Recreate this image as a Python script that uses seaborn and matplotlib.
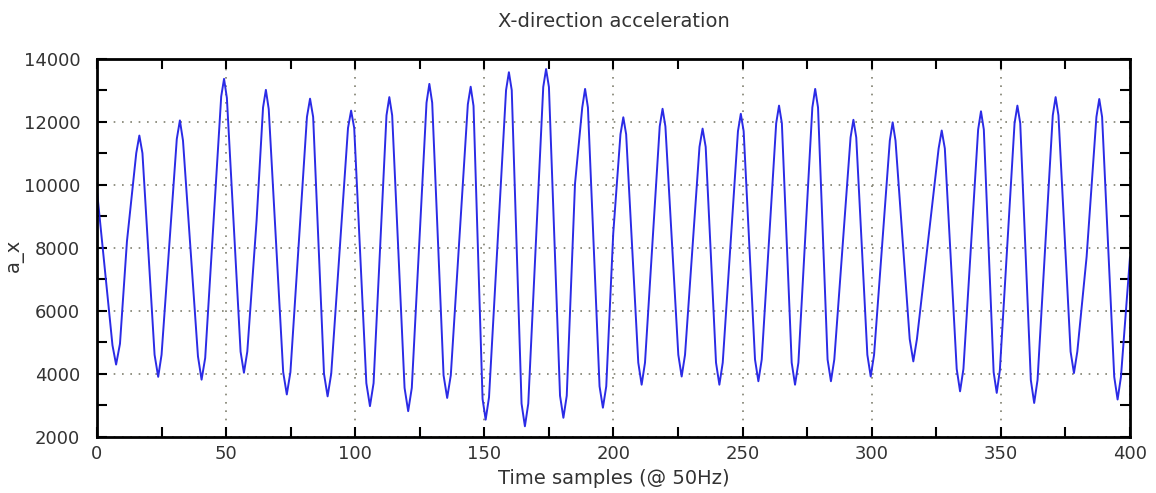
import pandas as pd
import matplotlib
matplotlib.use("Agg")
import matplotlib.pyplot as plt
import seaborn as sns
from matplotlib.ticker import MultipleLocator

# sample index and x-acceleration (peaks, troughs, their flanks, shoulders)
sample = [0,
          6.0, 7.4, 8.9, 11.6, 15.2, 16.4, 17.6,
          22.3, 23.7, 25.0, 30.9, 32.1, 33.3,
          39.1, 40.5, 41.9, 48.1, 49.2, 50.3,
          55.6, 56.9, 58.2, 61.8, 64.3, 65.4, 66.5,
          72.1, 73.5, 74.9, 81.3, 82.5, 83.7,
          87.9, 89.3, 90.7, 97.2, 98.4, 99.6,
          104.3, 105.7, 107.1, 112.1, 113.2, 114.3,
          119.1, 120.5, 121.9, 127.6, 128.7, 129.8,
          134.2, 135.6, 137.0, 143.6, 144.7, 145.8,
          149.3, 150.5, 151.8, 158.4, 159.5, 160.6,
          164.4, 165.7, 167.0, 172.8, 173.9, 175.0,
          179.3, 180.6, 181.9, 185.1, 187.9, 189.0, 190.1,
          194.6, 195.9, 197.2, 199.9, 202.7, 203.8, 204.9,
          209.6, 210.9, 212.2, 217.9, 219.0, 220.1,
          225.1, 226.4, 227.7, 233.3, 234.5, 235.7,
          239.7, 241.0, 242.3, 248.2, 249.3, 250.4,
          254.8, 256.1, 257.4, 263.0, 264.1, 265.2,
          269.0, 270.3, 271.6, 277.0, 278.1, 279.2,
          282.9, 284.2, 285.5, 291.8, 292.9, 294.0,
          298.3, 299.6, 300.9, 307.0, 308.1, 309.2,
          314.7, 316.1, 317.5, 325.9, 327.1, 328.3,
          332.9, 334.2, 335.5, 341.2, 342.3, 343.4,
          347.2, 348.4, 349.6, 355.3, 356.4, 357.5,
          361.6, 362.9, 364.2, 370.1, 371.2, 372.3,
          377.0, 378.3, 379.6, 383.2, 387.0, 388.1, 389.2,
          393.9, 395.2, 396.5,
          400]
a_x = [9800,
       4900, 4290, 4950, 8200, 11000, 11560, 11000,
       4600, 3900, 4600, 11450, 12040, 11400,
       4550, 3810, 4500, 12800, 13360, 12750,
       4700, 4030, 4700, 8860, 12450, 13010, 12400,
       4050, 3340, 4050, 12150, 12730, 12150,
       4000, 3280, 4000, 11800, 12350, 11800,
       3700, 2970, 3700, 12200, 12780, 12200,
       3550, 2810, 3550, 12600, 13200, 12600,
       3950, 3230, 3950, 12550, 13110, 12500,
       3200, 2540, 3250, 13000, 13570, 13000,
       3050, 2330, 3050, 13100, 13670, 13100,
       3300, 2600, 3300, 10030, 12450, 13040, 12450,
       3600, 2920, 3600, 8450, 11600, 12140, 11600,
       4350, 3650, 4350, 11850, 12410, 11850,
       4600, 3910, 4600, 11200, 11780, 11200,
       4350, 3650, 4350, 11700, 12250, 11700,
       4450, 3760, 4450, 11950, 12510, 11950,
       4350, 3650, 4350, 12450, 13040, 12450,
       4450, 3760, 4450, 11500, 12060, 11500,
       4600, 3910, 4600, 11400, 11980, 11400,
       5100, 4390, 5100, 11150, 11720, 11150,
       4150, 3440, 4150, 11750, 12330, 11750,
       4050, 3390, 4100, 11950, 12510, 11950,
       3800, 3070, 3800, 12200, 12780, 12200,
       4700, 4020, 4700, 7710, 12150, 12720, 12150,
       3900, 3180, 3900,
       7700]

df = pd.DataFrame({"sample": sample, "a_x": a_x})

sns.set_style("ticks")
plt.rcParams["font.family"] = ["DejaVu Sans"]
text_col = "#333333"

fig = plt.figure(figsize=(11.56, 4.93), dpi=100)
ax = fig.add_axes([0.0839, 0.1142, 0.8936, 0.7668])

sns.lineplot(data=df, x="sample", y="a_x", color="#2b2be6", lw=1.4, ax=ax)

ax.set_xlim(0, 400)
ax.set_ylim(2000, 14000)
ax.xaxis.set_major_locator(MultipleLocator(50))
ax.xaxis.set_minor_locator(MultipleLocator(25))
ax.yaxis.set_major_locator(MultipleLocator(2000))
ax.yaxis.set_minor_locator(MultipleLocator(1000))
ax.tick_params(which="both", direction="in", length=7, width=1.5, top=True, right=True,
               colors="black", labelcolor=text_col, labelsize=13)
ax.tick_params(axis="y", pad=12)
ax.tick_params(axis="x", pad=6)
ax.grid(which="major", linestyle=(0, (1, 4)), color="#808070", lw=1.2)
for s in ax.spines.values():
    s.set_linewidth(2)
    s.set_color("black")

ax.set_title("X-direction acceleration", fontsize=14, color=text_col, pad=23)
ax.set_xlabel("Time samples (@ 50Hz)", fontsize=14, color=text_col, labelpad=4)
ax.set_ylabel("a_x", fontsize=14, color=text_col)
ax.yaxis.set_label_coords(-0.071, 0.48)

fig.savefig("out.png", dpi=100)
